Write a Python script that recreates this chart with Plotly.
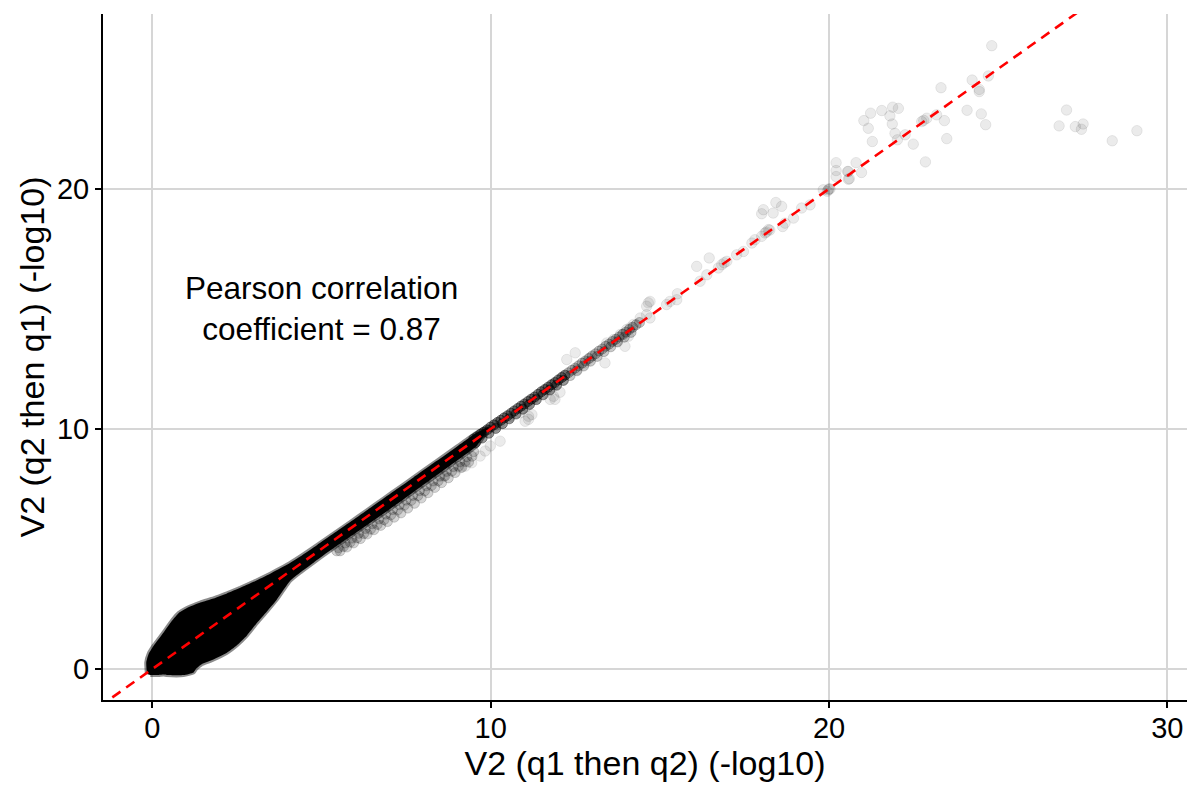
import plotly.graph_objects as go

# ---------------- data ----------------
# outline of the saturated, fully black cloud of points near the origin
blob_x = [-0.158, -0.177, -0.108, 0.039, 0.335, 0.581, 0.778, 1.024, 1.418, 1.812,
          2.206, 2.600, 2.994, 3.486, 3.978, 4.372, 4.865, 5.357, 5.849, 6.342,
          6.834, 7.326, 7.720, 8.400, 9.000, 9.600, 9.950,
          9.600, 9.000, 8.213, 7.326, 6.342, 5.554, 5.160, 4.766, 4.372, 4.077,
          3.880, 3.683, 3.388, 3.092, 2.797, 2.501, 2.206, 1.713, 1.450, 1.300,
          1.221, 0.926, 0.433, 0.335, 0.187, -0.059]
blob_y = [-0.208, 0.277, 0.624, 0.970, 1.525, 2.010, 2.328, 2.540, 2.770, 2.940,
          3.150, 3.380, 3.630, 3.970, 4.340, 4.690, 5.160, 5.640, 6.120, 6.610,
          7.100, 7.590, 7.980, 8.660, 9.260, 9.850, 10.090,
          9.310, 8.670, 7.870, 6.965, 5.990, 5.230, 4.840, 4.430, 4.020, 3.680,
          3.300, 2.900, 2.400, 1.920, 1.400, 0.990, 0.680, 0.340, 0.190, 0.020,
          -0.140, -0.249, -0.249, -0.230, -0.249, -0.249]

# gray fringe of points just under the diagonal (x ~ 5.4 .. 9.5)
low_x = [5.45, 5.65, 5.85, 6.05, 6.25, 6.45, 6.65, 6.85, 7.05, 7.25, 7.45, 7.65, 7.85,
         8.05, 8.25, 8.45, 8.65, 8.85, 9.05, 9.25, 9.45,
         5.55, 5.75, 5.95, 6.15, 6.35, 6.55, 6.75, 6.95, 7.15, 7.35, 7.55, 7.75, 7.95,
         8.15, 8.35, 8.55, 8.75, 8.95, 9.15, 9.35,
         5.50, 5.70, 5.90, 6.10, 6.30, 6.50, 6.70, 6.90, 7.10, 7.30, 7.50, 7.70, 7.90,
         8.10, 8.30, 8.50, 8.70, 8.90, 9.10, 9.30, 9.50]
low_y = [4.92, 5.10, 5.28, 5.46, 5.64, 5.82, 6.02, 6.22, 6.42, 6.62, 6.82, 7.02, 7.22,
         7.42, 7.64, 7.84, 8.04, 8.24, 8.44, 8.64, 8.86,
         4.92, 5.08, 5.25, 5.43, 5.62, 5.80, 5.98, 6.14, 6.32, 6.50, 6.70, 6.90, 7.12,
         7.34, 7.56, 7.76, 7.96, 8.18, 8.40, 8.62,
         5.05, 5.25, 5.45, 5.65, 5.85, 6.05, 6.25, 6.45, 6.64, 6.84, 7.03, 7.23, 7.43,
         7.63, 7.83, 8.03, 8.23, 8.43, 8.63, 8.84, 9.05]

# dense dark band on the diagonal (x ~ 9.5 .. 12.2)
mid_x = [9.5, 9.6, 9.7, 9.8, 9.9, 10.0, 10.1, 10.2, 10.3, 10.4, 10.5, 10.6, 10.7, 10.8,
         10.9, 11.0, 11.1, 11.2, 11.3, 11.4, 11.5, 11.6, 11.7, 11.8, 11.9, 12.0, 12.1, 12.2,
         9.55, 9.75, 9.95, 10.15, 10.35, 10.55, 10.75, 10.95, 11.15, 11.35, 11.55, 11.75,
         11.95, 12.15]
mid_y = [9.58, 9.67, 9.78, 9.87, 9.97, 10.08, 10.17, 10.27, 10.36, 10.46, 10.55, 10.65,
         10.75, 10.85, 10.95, 11.04, 11.14, 11.24, 11.33, 11.44, 11.55, 11.64, 11.74,
         11.84, 11.93, 12.04, 12.14, 12.24,
         9.42, 9.62, 9.82, 10.02, 10.22, 10.42, 10.62, 10.82, 11.02, 11.22, 11.42, 11.62,
         11.82, 12.02]

# medium gray band on the diagonal (x ~ 12.3 .. 14.4)
band_x = [12.3, 12.4, 12.5, 12.6, 12.7, 12.8, 12.9, 13.0, 13.1, 13.2, 13.3, 13.4, 13.5,
          13.6, 13.7, 13.8, 13.9, 14.0, 14.1, 14.2, 14.3, 14.4,
          12.35, 12.55, 12.75, 12.95, 13.15, 13.35, 13.55, 13.75, 13.95, 14.15]
band_y = [12.34, 12.44, 12.53, 12.63, 12.74, 12.83, 12.93, 13.04, 13.13, 13.24, 13.33,
          13.44, 13.53, 13.64, 13.73, 13.83, 13.94, 14.03, 14.14, 14.23, 14.34, 14.43,
          12.22, 12.42, 12.62, 12.82, 13.02, 13.22, 13.42, 13.62, 13.82, 14.02]

# individual light points
pts_x = [24.81, 24.71, 24.23, 24.44, 24.44, 23.31, 24.08, 24.50, 24.63, 23.48, 22.85,
         23.41, 23.18, 22.89, 22.80, 22.74, 22.49, 22.25, 22.02, 21.95, 21.87, 21.80,
         21.88, 22.05, 21.56, 21.23, 21.03, 21.16, 21.28, 20.80, 20.96, 20.60, 20.55,
         20.21, 20.21, 20.21, 20.03, 19.83, 27.02, 26.80, 27.28, 27.46, 27.51, 28.37,
         29.10,
         20.57, 20.57, 19.98, 20.00, 19.95, 19.44, 19.19, 18.95, 18.70, 18.63, 18.60,
         18.43, 18.35, 18.06, 18.01, 18.21, 18.11, 18.01, 18.15, 18.25, 17.81, 17.72,
         17.47, 17.27, 16.98, 16.83, 16.73, 16.90, 16.46, 16.09, 16.39, 16.19, 15.52,
         15.30, 14.71, 14.61, 14.42, 14.22, 14.02, 13.83, 13.63, 13.43, 13.97,
         15.20, 15.50, 14.66, 14.61, 14.71, 14.12, 13.92, 13.73, 14.07, 13.38, 12.94,
         12.79, 12.55, 12.50, 12.25, 12.15, 11.86, 11.66, 11.86, 11.90, 11.26, 11.07,
         10.87, 11.12, 11.02, 10.58, 10.28, 10.13, 10.28, 9.99, 9.84, 9.69, 9.44, 9.25,
         9.10, 8.61, 11.12, 11.22, 11.76, 12.05]
pts_y = [25.96, 24.70, 24.53, 24.14, 24.05, 24.21, 23.27, 23.12, 22.67, 22.09, 21.12,
         22.84, 23.08, 22.94, 22.85, 22.80, 21.86, 22.25, 22.04, 22.31, 22.70, 23.04,
         23.40, 23.35, 23.26, 23.15, 22.84, 22.52, 21.97, 21.09, 20.68, 20.42, 20.72,
         21.09, 20.76, 20.51, 19.99, 19.96, 23.28, 22.62, 22.59, 22.48, 22.70, 22.00,
         22.42,
         20.72, 20.40, 19.96, 20.00, 19.90, 19.33, 19.20, 18.78, 18.57, 18.43, 19.27,
         19.43, 18.99, 19.13, 18.96, 18.30, 18.16, 18.02, 18.20, 18.28, 17.88, 17.74,
         17.39, 17.25, 16.98, 16.84, 16.70, 16.92, 17.12, 16.77, 16.42, 16.15, 15.63,
         15.31, 15.31, 15.11, 14.62, 14.35, 14.14, 13.93, 13.72, 13.58, 13.44,
         15.18, 15.38, 15.25, 14.76, 14.62, 14.21, 13.93, 13.65, 13.86, 12.75, 12.96,
         12.75, 12.47, 13.17, 12.89, 12.20, 11.85, 11.64, 11.36, 11.23, 11.23, 10.95,
         10.67, 10.53, 10.32, 10.53, 10.26, 10.12, 9.49, 9.29, 9.08, 8.87, 8.59, 8.45,
         8.38, 8.04, 10.40, 10.60, 11.23, 11.53]

# identity reference line y = x
ref_line = [-2, 31]

x_ticks = [0, 10, 20, 30]
y_ticks = [0, 10, 20]

x_title = "V2 (q1 then q2) (-log10)"
y_title = "V2 (q2 then q1) (-log10)"
note = "Pearson correlation<br>coefficient = 0.87"

# ---------------- figure ----------------
FONT = "Liberation Sans, Arial, Helvetica, sans-serif"


def pts(x, y, a, size=10):
    c = f"rgba(0,0,0,{a})"
    return go.Scatter(x=x, y=y, mode="markers", hoverinfo="skip", showlegend=False,
                      marker=dict(size=size, color=c, line=dict(color=c, width=1)))


fig = go.Figure()
fig.add_trace(go.Scatter(x=blob_x, y=blob_y, mode="lines", fill="toself",
                         fillcolor="black", hoverinfo="skip", showlegend=False,
                         line=dict(color="rgba(0,0,0,0.45)", width=4, shape="spline",
                                   smoothing=0.5)))
fig.add_trace(pts(low_x, low_y, 0.17))
fig.add_trace(pts(mid_x, mid_y, 0.4))
fig.add_trace(pts(band_x, band_y, 0.21))
fig.add_trace(pts(pts_x, pts_y, 0.08, size=10.5))
fig.add_trace(go.Scatter(x=ref_line, y=ref_line, mode="lines", hoverinfo="skip",
                         showlegend=False,
                         line=dict(color="#ff0000", width=2.6, dash="10px,7px")))

fig.add_annotation(x=5, y=15, xref="x", yref="y", text=note, showarrow=False,
                   align="center", font=dict(family=FONT, size=31.5, color="black"))

axis_common = dict(
    showgrid=True, gridcolor="#d6d6d6", gridwidth=2, zeroline=False,
    showline=True, linecolor="black", linewidth=2,
    ticks="outside", ticklen=6, tickwidth=2, tickcolor="black",
    tickfont=dict(family=FONT, size=29, color="black"),
)

fig.update_layout(
    width=1191, height=785,
    margin=dict(l=103, r=4, t=14, b=85),
    paper_bgcolor="white", plot_bgcolor="white",
    font=dict(family=FONT, color="black"),
    xaxis=dict(range=[-1.456, 30.58], tickvals=x_ticks, ticklabelstandoff=-5,
               title=dict(text=x_title, font=dict(family=FONT, size=34), standoff=4),
               **axis_common),
    yaxis=dict(range=[-1.29, 27.28], tickvals=y_ticks,
               title=dict(text=y_title, font=dict(family=FONT, size=34), standoff=2),
               **axis_common),
)

fig.write_html("out.html", config={"displayModeBar": False},
               post_script="document.body.style.margin='0';")
